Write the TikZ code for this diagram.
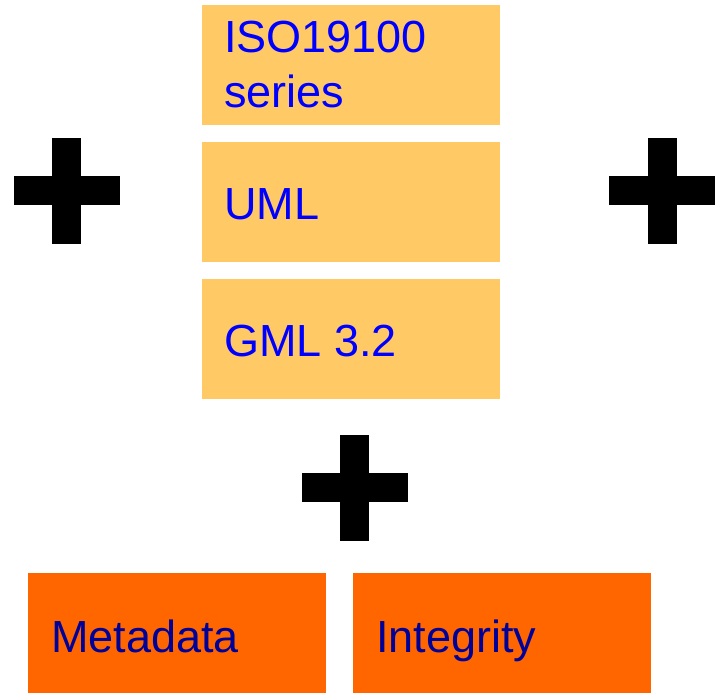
\documentclass[tikz,border=0pt]{standalone}
\usepackage{fontspec}
\setmainfont{Liberation Sans}
\definecolor{paleorange}{HTML}{FFC966}
\definecolor{deeporange}{HTML}{FF6600}
\definecolor{brightblue}{HTML}{0000FF}
\definecolor{navyblue}{HTML}{000099}
\tikzset{
  stdbox/.style={fill=paleorange, draw=none, minimum width=298pt, minimum height=120pt, inner sep=0pt},
  extbox/.style={fill=deeporange, draw=none, minimum width=298pt, minimum height=120pt, inner sep=0pt},
  stdlabel/.style={anchor=base west, inner sep=0pt, text=brightblue, font=\fontsize{45}{55}\selectfont},
  extlabel/.style={anchor=base west, inner sep=0pt, text=navyblue, font=\fontsize{45}{55}\selectfont},
  plusbar/.style={fill=black, draw=none}
}
\newcommand{\plussign}[2]{%
  \fill[plusbar] (#1-53,#2-14.5) rectangle (#1+53,#2+14.5);
  \fill[plusbar] (#1-14.5,#2-53) rectangle (#1+14.5,#2+53);
}
\begin{document}
\begin{tikzpicture}[x=1pt,y=-1pt]
  \useasboundingbox (0,0) rectangle (720,695);

  % standards stack
  \node[stdbox, anchor=north west] (iso) at (202,5) {};
  \node[stdbox, anchor=north west] (uml) at (202,142) {};
  \node[stdbox, anchor=north west] (gml) at (202,279) {};
  \node[stdlabel] (isoa) at (224,53) {ISO19100};
  \node[stdlabel] (isob) at (224,108) {series};
  \node[stdlabel] (umlt) at (224,219) {UML};
  \node[stdlabel] (gmlt) at (224,356) {GML 3.2};

  % extensions
  \node[extbox, anchor=north west] (meta) at (28,573) {};
  \node[extbox, anchor=north west] (integ) at (353,573) {};
  \node[extlabel] (metat) at (51,652) {Metadata};
  \node[extlabel] (integt) at (376,652) {Integrity};

  % plus signs
  \plussign{66.5}{191}
  \plussign{662}{191}
  \plussign{354.5}{487.5}
\end{tikzpicture}
\end{document}
